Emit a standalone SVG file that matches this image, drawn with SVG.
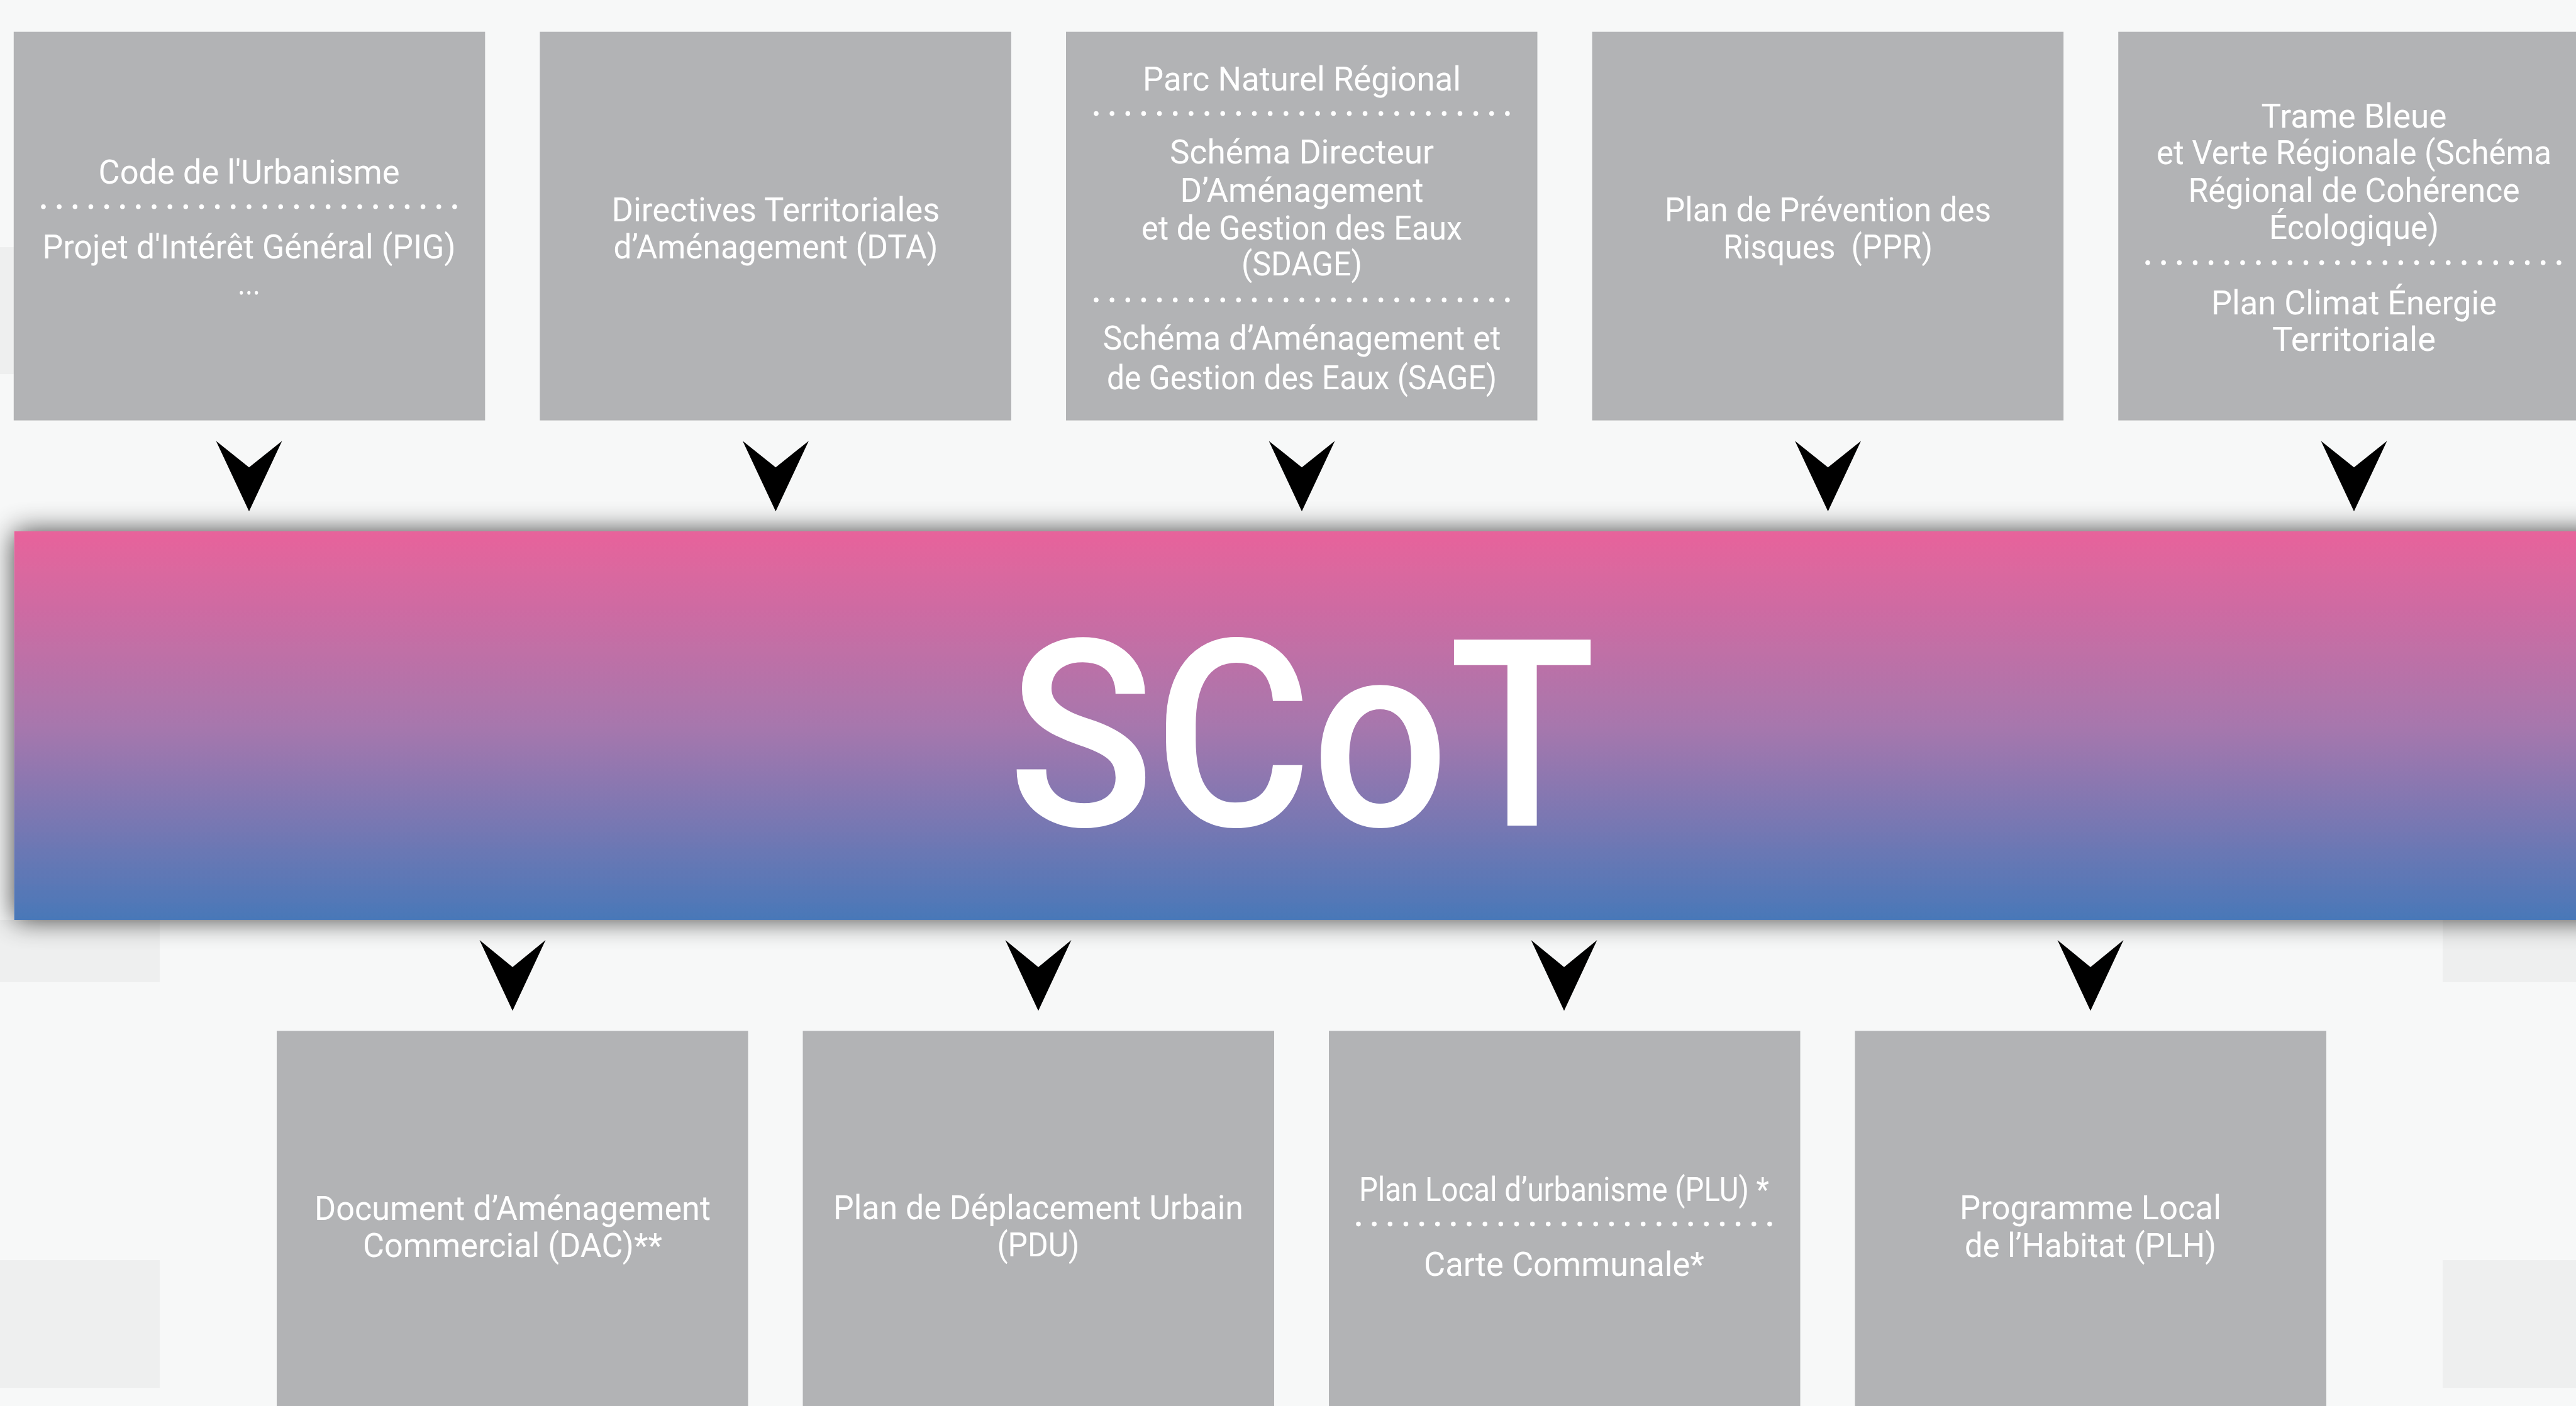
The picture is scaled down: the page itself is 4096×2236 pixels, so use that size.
<svg xmlns="http://www.w3.org/2000/svg" width="4096" height="2236" viewBox="0 0 4096 2236">
<defs>
<linearGradient id="barGrad" x1="0" y1="0" x2="0" y2="1">
<stop offset="0" stop-color="#E8639B"/>
<stop offset="0.5" stop-color="#A777AD"/>
<stop offset="1" stop-color="#4978B8"/>
</linearGradient>
<filter id="shadow" x="-0.05" y="-0.3" width="1.1" height="1.6">
<feGaussianBlur in="SourceAlpha" stdDeviation="22"/>
<feComponentTransfer><feFuncA type="linear" slope="0.75"/></feComponentTransfer>
<feMerge><feMergeNode/><feMergeNode in="SourceGraphic"/></feMerge>
</filter>
</defs>
<style>
.box{fill:#B2B3B5}
.t{font-family:Roboto,"Liberation Sans",sans-serif;font-size:54px;fill:#FFFFFF;text-anchor:middle}
.dots{stroke:#FFFFFF;stroke-width:7.6;stroke-linecap:round;stroke-dasharray:0 25.15;fill:none}
.arrow{fill:#000000}
.panel{fill:#EEEFEF}
.scot{font-family:Roboto,"Liberation Sans",sans-serif;font-size:416px;font-weight:500;fill:#FFFFFF;text-anchor:middle}
</style>
<rect x="0" y="0" width="4096" height="2236" fill="#F7F8F8"/>
<g id="background-panels">
<rect class="panel" x="0" y="393" width="22" height="202"/>
<rect class="panel" x="0" y="1463" width="254" height="99"/>
<rect class="panel" x="0" y="2004" width="254" height="203"/>
<rect class="panel" x="3884" y="1463" width="212" height="99"/>
<rect class="panel" x="3884" y="2004" width="212" height="203"/>
</g>
<g id="scot">
<rect x="22.6" y="845" width="4120" height="618" fill="url(#barGrad)" filter="url(#shadow)"/>
<text class="scot" x="2070" y="1313" textLength="935" lengthAdjust="spacingAndGlyphs">SCoT</text>
</g>
<g id="box-code-urbanisme">
<rect class="box" x="21.8" y="50.6" width="749.5" height="618"/>
<text class="t" x="396" y="292" textLength="479" lengthAdjust="spacingAndGlyphs">Code de l'Urbanisme</text>
<line class="dots" x1="69" y1="328.7" x2="724" y2="328.7"/>
<text class="t" x="396" y="410.6" textLength="657" lengthAdjust="spacingAndGlyphs">Projet d'Intérêt Général (PIG)</text>
<text class="t" x="396" y="468" textLength="36" lengthAdjust="spacingAndGlyphs">...</text>
</g>
<g id="box-dta">
<rect class="box" x="858.4" y="50.6" width="749.5" height="618"/>
<text class="t" x="1233.4" y="351.5" textLength="522" lengthAdjust="spacingAndGlyphs">Directives Territoriales</text>
<text class="t" x="1233.4" y="410.7" textLength="516" lengthAdjust="spacingAndGlyphs">d’Aménagement (DTA)</text>
</g>
<g id="box-pnr-sdage-sage">
<rect class="box" x="1695" y="50.6" width="749.5" height="618"/>
<text class="t" x="2070" y="144" textLength="506" lengthAdjust="spacingAndGlyphs">Parc Naturel Régional</text>
<line class="dots" x1="1743" y1="180.5" x2="2398" y2="180.5"/>
<text class="t" x="2070" y="260" textLength="420" lengthAdjust="spacingAndGlyphs">Schéma Directeur</text>
<text class="t" x="2070" y="320.8" textLength="387" lengthAdjust="spacingAndGlyphs">D’Aménagement</text>
<text class="t" x="2070" y="380.7" textLength="510" lengthAdjust="spacingAndGlyphs">et de Gestion des Eaux</text>
<text class="t" x="2070" y="438" textLength="192" lengthAdjust="spacingAndGlyphs">(SDAGE)</text>
<line class="dots" x1="1743" y1="477" x2="2398" y2="477"/>
<text class="t" x="2070" y="556" textLength="633" lengthAdjust="spacingAndGlyphs">Schéma d’Aménagement et</text>
<text class="t" x="2070" y="619" textLength="620" lengthAdjust="spacingAndGlyphs">de Gestion des Eaux (SAGE)</text>
</g>
<g id="box-ppr">
<rect class="box" x="2531.6" y="50.6" width="749.5" height="618"/>
<text class="t" x="2906.6" y="351.5" textLength="519" lengthAdjust="spacingAndGlyphs">Plan de Prévention des</text>
<text class="t" x="2906.6" y="410.7" textLength="333" lengthAdjust="spacingAndGlyphs" style="white-space:pre">Risques  (PPR)</text>
</g>
<g id="box-tvb-pcet">
<rect class="box" x="3368.2" y="50.6" width="749.5" height="618"/>
<text class="t" x="3743" y="203" textLength="295" lengthAdjust="spacingAndGlyphs">Trame Bleue</text>
<text class="t" x="3743" y="261" textLength="628" lengthAdjust="spacingAndGlyphs">et Verte Régionale (Schéma</text>
<text class="t" x="3743" y="321" textLength="527" lengthAdjust="spacingAndGlyphs">Régional de Cohérence</text>
<text class="t" x="3743" y="379.5" textLength="270" lengthAdjust="spacingAndGlyphs">Écologique)</text>
<line class="dots" x1="3415" y1="417.7" x2="4072" y2="417.7"/>
<text class="t" x="3743" y="499.6" textLength="454" lengthAdjust="spacingAndGlyphs">Plan Climat Énergie</text>
<text class="t" x="3743" y="558" textLength="260" lengthAdjust="spacingAndGlyphs">Territoriale</text>
</g>
<g id="box-dac">
<rect class="box" x="440" y="1639.5" width="749.5" height="620"/>
<text class="t" x="815" y="1940" textLength="630" lengthAdjust="spacingAndGlyphs">Document d’Aménagement</text>
<text class="t" x="815" y="1998.7" textLength="476" lengthAdjust="spacingAndGlyphs">Commercial (DAC)**</text>
</g>
<g id="box-pdu">
<rect class="box" x="1276.5" y="1639.5" width="749.5" height="620"/>
<text class="t" x="1651" y="1939.3" textLength="652" lengthAdjust="spacingAndGlyphs">Plan de Déplacement Urbain</text>
<text class="t" x="1651" y="1998" textLength="131" lengthAdjust="spacingAndGlyphs">(PDU)</text>
</g>
<g id="box-plu">
<rect class="box" x="2113" y="1639.5" width="749.5" height="620"/>
<text class="t" x="2487" y="1909.6" textLength="652" lengthAdjust="spacingAndGlyphs">Plan Local d’urbanisme (PLU) *</text>
<line class="dots" x1="2160" y1="1946.6" x2="2815" y2="1946.6"/>
<text class="t" x="2487" y="2029" textLength="446" lengthAdjust="spacingAndGlyphs">Carte Communale*</text>
</g>
<g id="box-plh">
<rect class="box" x="2949.5" y="1639.5" width="749.5" height="620"/>
<text class="t" x="3324" y="1938.8" textLength="416" lengthAdjust="spacingAndGlyphs">Programme Local</text>
<text class="t" x="3324" y="1998.5" textLength="400" lengthAdjust="spacingAndGlyphs">de l’Habitat (PLH)</text>
</g>
<g id="connectors">
<polygon class="arrow" points="343.5,701.2 396,743.3 448.5,701.2 396,813.3"/>
<polygon class="arrow" points="1180.9,701.2 1233.4,743.3 1285.9,701.2 1233.4,813.3"/>
<polygon class="arrow" points="2017.5,701.2 2070,743.3 2122.5,701.2 2070,813.3"/>
<polygon class="arrow" points="2854.1,701.2 2906.6,743.3 2959.1,701.2 2906.6,813.3"/>
<polygon class="arrow" points="3690.5,701.2 3743,743.3 3795.5,701.2 3743,813.3"/>
<polygon class="arrow" points="762.5,1495 815,1538 867.5,1495 815,1607.6"/>
<polygon class="arrow" points="1598.5,1495 1651,1538 1703.5,1495 1651,1607.6"/>
<polygon class="arrow" points="2434.5,1495 2487,1538 2539.5,1495 2487,1607.6"/>
<polygon class="arrow" points="3271.5,1495 3324,1538 3376.5,1495 3324,1607.6"/>
</g>
</svg>
